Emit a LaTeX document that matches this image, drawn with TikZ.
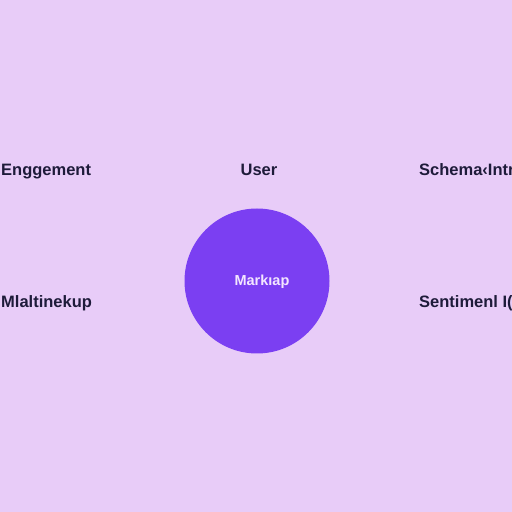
\documentclass[tikz,border=0pt]{standalone}
\usepackage{fontspec}
\setmainfont{Liberation Sans}
\definecolor{bgc}{HTML}{E8CCF8}
\definecolor{circc}{HTML}{7B3FF2}
\definecolor{txtc}{HTML}{1E1B3A}
\definecolor{intxt}{HTML}{F3E6FF}
\begin{document}
\begin{tikzpicture}[x=1pt,y=1pt,
  lbl/.style={text=txtc,font=\fontsize{16.5}{19}\selectfont\bfseries,inner sep=0pt},
  hub/.style={circle,fill=circc,minimum size=145pt,inner sep=0pt,text=intxt,font=\fontsize{14.5}{16}\selectfont\bfseries}]
\clip (0,0) rectangle (512,512);
\fill[bgc] (0,0) rectangle (512,512);
\node[hub] (hub) at (257,231) {};
\node[text=intxt,font=\fontsize{14.5}{16}\selectfont\bfseries,inner sep=0pt,anchor=base] (hubtxt) at (262,226) {Markıap};
\node[lbl,anchor=base west] (eng) at (1,336) {Enggement};
\node[lbl,anchor=base] (user) at (259,336) {User};
\node[lbl,anchor=base west] (schema) at (419,336) {Schema‹Intr};
\node[lbl,anchor=base west] (mult) at (1,204) {Mlaltinekup};
\node[lbl,anchor=base west] (sent) at (419,204) {Sentimenl I(};
\end{tikzpicture}
\end{document}
